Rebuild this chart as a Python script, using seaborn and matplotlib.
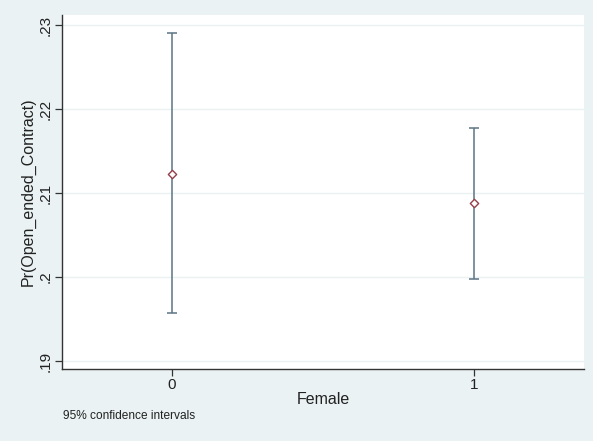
import matplotlib
matplotlib.use("Agg")
import matplotlib.pyplot as plt
import seaborn as sns
import pandas as pd

female = [0, 1]
margin = [0.2123, 0.2088]
ci_low = [0.1957, 0.1998]
ci_high = [0.2290, 0.2177]
yticks = [0.19, 0.20, 0.21, 0.22, 0.23]
ytick_labels = [".19", ".2", ".21", ".22", ".23"]

df = pd.DataFrame({"Female": female, "margin": margin, "lo": ci_low, "hi": ci_high})

sns.set_theme(style="white")
plt.rcParams["font.family"] = ["Liberation Sans", "DejaVu Sans"]

bg = "#eaf2f3"
fig = plt.figure(figsize=(5.93, 4.41), dpi=100, facecolor=bg)
ax = fig.add_axes([62/593, 1-369/441, (584-62)/593, (369-15)/441])
ax.set_facecolor("white")

for _, r in df.iterrows():
    ax.errorbar(r["Female"], r["margin"],
                yerr=[[r["margin"] - r["lo"]], [r["hi"] - r["margin"]]],
                fmt="none", ecolor="#5e7485", elinewidth=1.1, capsize=3.5, capthick=1.1, zorder=2)
sns.scatterplot(data=df, x="Female", y="margin", ax=ax, marker="D", s=18,
                facecolor="white", edgecolor="#94404a", linewidth=1.0, zorder=3)

ax.set_xlim(-0.364, 1.364)
ax.set_ylim(0.18905, 0.2312)
ax.set_xticks(female)
ax.set_xticklabels([str(v) for v in female])
ax.set_yticks(yticks)
ax.set_yticklabels(ytick_labels, rotation=90, va="center")
ax.grid(axis="y", color=bg, linewidth=1.0)
ax.set_axisbelow(True)

for s in ["top", "right"]:
    ax.spines[s].set_visible(False)
for s in ["left", "bottom"]:
    ax.spines[s].set_color("#333333")
    ax.spines[s].set_linewidth(1.0)
ax.tick_params(axis="both", which="both", direction="out", length=5, width=0.9,
               color="#333333", labelsize=11, labelcolor="#222222", left=True, bottom=True)
ax.tick_params(axis="y", pad=1.5)
ax.tick_params(axis="x", pad=1.5)

ax.set_xlabel("Female", fontsize=11.5, color="#222222", labelpad=0)
ax.set_ylabel("Pr(Open_ended_Contract)", fontsize=11.5, color="#222222", labelpad=2)
fig.text(63/593, 1-416/441, "95% confidence intervals", fontsize=8.6, color="#222222", va="center", ha="left")

fig.savefig("out.png", dpi=100, facecolor=bg)
